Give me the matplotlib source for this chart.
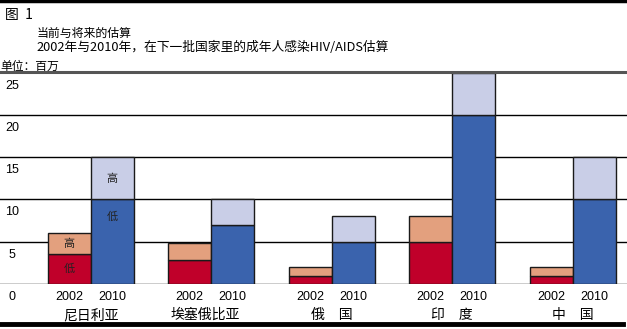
import numpy as np
import matplotlib
matplotlib.use("Agg")
import matplotlib.pyplot as plt
import matplotlib.transforms as mtransforms

plt.rcParams['font.family'] = ['Noto Sans CJK SC', 'DejaVu Sans']

# data, in millions
countries = ["尼日利亚", "埃塞俄比亚", "俄　国", "印　度", "中　国"]
years = ["2002", "2010"]
low_2002 = [3.5, 2.8, 1.0, 5.0, 1.0]
high_2002 = [6.0, 4.9, 2.0, 8.0, 2.0]
low_2010 = [10.0, 7.0, 5.0, 20.0, 10.0]
high_2010 = [15.0, 10.0, 8.0, 25.0, 15.0]
y_ticks = [0, 5, 10, 15, 20, 25]

W, H = 627, 329
fig = plt.figure(figsize=(W / 100, H / 100), dpi=100)

def fy(px):
	# pixel from top -> figure fraction
	return 1 - px / H

ax = fig.add_axes([0, fy(284), 1, fy(72.7) - fy(284)])
ax.set_xlim(-0.753, 4.45)
ax.set_ylim(0, 25)
ax.axis("off")

for v in y_ticks[:-1]:
	ax.axhline(v, color="black", lw=1.0, zorder=1)

x = np.arange(len(countries))
w = 0.357
c_low02, c_high02 = "#c0002a", "#e3a07e"
c_low10, c_high10 = "#3a63ad", "#c9cee7"
ek = dict(edgecolor="#1a1a1a", linewidth=1.0, zorder=3)

h02 = np.array(high_2002) - np.array(low_2002)
h10 = np.array(high_2010) - np.array(low_2010)
ax.bar(x - w / 2, low_2002, w, color=c_low02, **ek)
ax.bar(x - w / 2, h02, w, bottom=low_2002, color=c_high02, **ek)
ax.bar(x + w / 2, low_2010, w, color=c_low10, **ek)
ax.bar(x + w / 2, h10, w, bottom=low_2010, color=c_high10, **ek)

# labels inside the Nigeria bars
lab = dict(ha="center", va="center", fontsize=8, color="#222222", zorder=4)
ax.text(x[0] - w / 2, (low_2002[0] + high_2002[0]) / 2, "高", **lab)
ax.text(x[0] - w / 2, low_2002[0] / 2, "低", **lab)
ax.text(x[0] + w / 2, (low_2010[0] + high_2010[0]) / 2, "高", **lab)
ax.text(x[0] + w / 2, 7.9, "低", **lab)

# y tick labels, sitting under their grid line
ytr = mtransforms.offset_copy(ax.transData, fig=fig, x=0, y=-13, units="dots")
for v in y_ticks:
	ax.text(-0.753 + 12 / 120.5, v, str(v), transform=ytr, ha="center", va="center",
		fontsize=9, family="Liberation Sans", color="black")

# year and country labels
xtr = ax.get_xaxis_transform()
tr_year = mtransforms.offset_copy(xtr, fig=fig, x=0, y=-13, units="dots")
tr_name = mtransforms.offset_copy(xtr, fig=fig, x=0, y=-31, units="dots")
for i, name in enumerate(countries):
	ax.text(x[i] - w / 2, 0, years[0], transform=tr_year, ha="center", va="center",
		fontsize=9, family="Liberation Sans")
	ax.text(x[i] + w / 2, 0, years[1], transform=tr_year, ha="center", va="center",
		fontsize=9, family="Liberation Sans")
	ax.text(x[i] - (0.05 if i == 1 else 0), 0, name, transform=tr_name, ha="center",
		va="center", fontsize=10)

# header
fig.text(5 / W, fy(15), "图  1", ha="left", va="center", fontsize=10)
fig.text(36.7 / W, fy(33.5), "当前与将来的估算", ha="left", va="center", fontsize=8.6)
fig.text(36.7 / W, fy(47.5), "2002年与2010年，在下一批国家里的成年人感染HIV/AIDS估算",
	ha="left", va="center", fontsize=9.2)
fig.text(0, fy(66), "单位：百万", ha="left", va="center", fontsize=8.5)

# frame lines
fig.add_artist(plt.Line2D([0, 1], [fy(1.2), fy(1.2)], color="black", lw=2.5))
fig.add_artist(plt.Line2D([0, 1], [fy(71.5), fy(71.5)], color="#555555", lw=2.2))
fig.add_artist(plt.Line2D([0, 623 / W], [fy(324), fy(324)], color="black", lw=3.5))

fig.savefig("out.png", dpi=100)
